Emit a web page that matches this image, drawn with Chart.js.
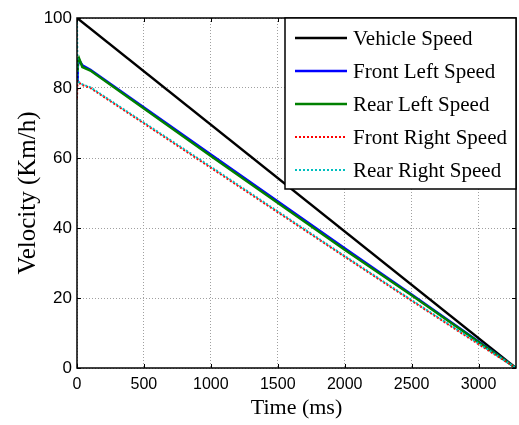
<!DOCTYPE html>
<html>
<head>
<meta charset="utf-8">
<script src="https://cdn.jsdelivr.net/npm/chart.js@4.4.0/dist/chart.umd.min.js"></script>
<style>
  html, body { margin: 0; padding: 0; background: #fff; }
  #wrap { width: 519px; height: 425px; }
</style>
</head>
<body>
<div id="wrap"><canvas id="speedChart" width="519" height="425"></canvas></div>
<script>
// Data (time in ms, speed in km/h)
const vehicleT = [0, 3280];
const vehicleV = [100, 0];

const frontLeftT = [0, 5, 15, 40, 100, 1000, 2000, 2500, 3000, 3280];
const frontLeftV = [82, 86, 88, 86.5, 85.2, 61, 34.2, 21, 7.6, 0];

const rearLeftT = [0, 5, 15, 40, 100, 1000, 2000, 2500, 3000, 3280];
const rearLeftV = [85, 87.5, 88.5, 86, 85, 60.6, 33.8, 20.8, 7.4, 0];

const frontRightT = [0, 4, 30, 100, 1000, 2000, 2500, 3000, 3280];
const frontRightV = [77, 82, 81, 80, 57.2, 31.8, 19.2, 6.8, 0];

const rearRightT = [0, 4, 30, 100, 1000, 2000, 2500, 3000, 3280];
const rearRightV = [100, 82, 81.2, 80.2, 57.5, 32, 19.4, 7, 0];

const xTicks = [0, 500, 1000, 1500, 2000, 2500, 3000];
const yTicks = [0, 20, 40, 60, 80, 100];

function pts(t, v) {
  return t.map((x, i) => ({ x: x, y: v[i] }));
}

// MATLAB-like inward ticks, frame and legend box
const matlabBits = {
  id: "matlabBits",
  afterDatasetsDraw(chart) {
    const ctx = chart.ctx;
    const a = chart.chartArea;
    const xs = chart.scales.x, ys = chart.scales.y;
    ctx.save();
    ctx.strokeStyle = "#000";
    ctx.lineWidth = 1;
    ctx.beginPath();
    xTicks.forEach(t => {
      const px = Math.round(xs.getPixelForValue(t)) + 0.5;
      ctx.moveTo(px, a.bottom); ctx.lineTo(px, a.bottom - 4);
      ctx.moveTo(px, a.top); ctx.lineTo(px, a.top + 4);
    });
    yTicks.forEach(t => {
      const py = Math.round(ys.getPixelForValue(t)) + 0.5;
      ctx.moveTo(a.left, py); ctx.lineTo(a.left + 4, py);
      ctx.moveTo(a.right, py); ctx.lineTo(a.right - 4, py);
    });
    ctx.stroke();
    ctx.lineWidth = 1.5;
    ctx.strokeRect(a.left, a.top, a.right - a.left, a.bottom - a.top);

    // legend
    const bx = 285, by = a.top, bw = a.right - bx, bh = 171;
    ctx.fillStyle = "#fff";
    ctx.fillRect(bx, by, bw, bh);
    ctx.lineWidth = 1.5;
    ctx.strokeRect(bx, by, bw, bh);
    ctx.font = "21px 'Liberation Serif', 'Times New Roman', serif";
    ctx.textBaseline = "middle";
    chart.data.datasets.forEach((ds, i) => {
      const yy = by + 20 + i * 33;
      ctx.strokeStyle = ds.borderColor;
      ctx.lineWidth = ds.borderWidth;
      ctx.setLineDash(ds.borderDash || []);
      ctx.beginPath();
      ctx.moveTo(bx + 10, yy);
      ctx.lineTo(bx + 62, yy);
      ctx.stroke();
      ctx.setLineDash([]);
      ctx.fillStyle = "#000";
      ctx.fillText(ds.label, bx + 68, yy + 1);
    });
    ctx.restore();
  }
};

const ctx = document.getElementById("speedChart").getContext("2d");
new Chart(ctx, {
  type: "scatter",
  data: {
    datasets: [
      { label: "Vehicle Speed", data: pts(vehicleT, vehicleV), borderColor: "#000000", borderWidth: 2.5 },
      { label: "Front Left Speed", data: pts(frontLeftT, frontLeftV), borderColor: "#0000ff", borderWidth: 2.5 },
      { label: "Rear Left Speed", data: pts(rearLeftT, rearLeftV), borderColor: "#008000", borderWidth: 2.5 },
      { label: "Front Right Speed", data: pts(frontRightT, frontRightV), borderColor: "#ff0000", borderWidth: 2, borderDash: [2, 2] },
      { label: "Rear Right Speed", data: pts(rearRightT, rearRightV), borderColor: "#00bfbf", borderWidth: 2, borderDash: [2, 2] }
    ].map((d, i) => Object.assign(d, { showLine: true, pointRadius: 0, fill: false, tension: 0, order: 4 - i }))
  },
  options: {
    responsive: false,
    animation: false,
    layout: { padding: { top: 18, right: 3, left: 9, bottom: 0 } },
    plugins: { legend: { display: false }, tooltip: { enabled: false } },
    scales: {
      x: {
        type: "linear",
        min: 0, max: 3280,
        afterBuildTicks: s => { s.ticks = xTicks.map(v => ({ value: v })); },
        afterFit: s => { s.height = 57; },
        grid: { color: "#a0a0a0", lineWidth: 1, drawTicks: false },
        border: { display: false, dash: [1, 2] },
        ticks: { color: "#000", padding: 7, callback: v => String(v), font: { family: "'Liberation Sans', Arial, sans-serif", size: 16 }, maxRotation: 0 },
        title: { display: true, text: "Time (ms)", color: "#000", padding: { top: 0 }, font: { family: "'Liberation Serif', 'Times New Roman', serif", size: 22 } }
      },
      y: {
        min: 0, max: 100,
        afterBuildTicks: s => { s.ticks = yTicks.map(v => ({ value: v })); },
        afterFit: s => { s.width = 68; },
        grid: { color: "#a0a0a0", lineWidth: 1, drawTicks: false },
        border: { display: false, dash: [1, 2] },
        ticks: { color: "#000", padding: 5, callback: v => String(v), font: { family: "'Liberation Sans', Arial, sans-serif", size: 17 } },
        title: { display: true, text: "Velocity (Km/h)", color: "#000", padding: { bottom: 0 }, font: { family: "'Liberation Serif', 'Times New Roman', serif", size: 25 } }
      }
    }
  },
  plugins: [matlabBits]
});
</script>
</body>
</html>
